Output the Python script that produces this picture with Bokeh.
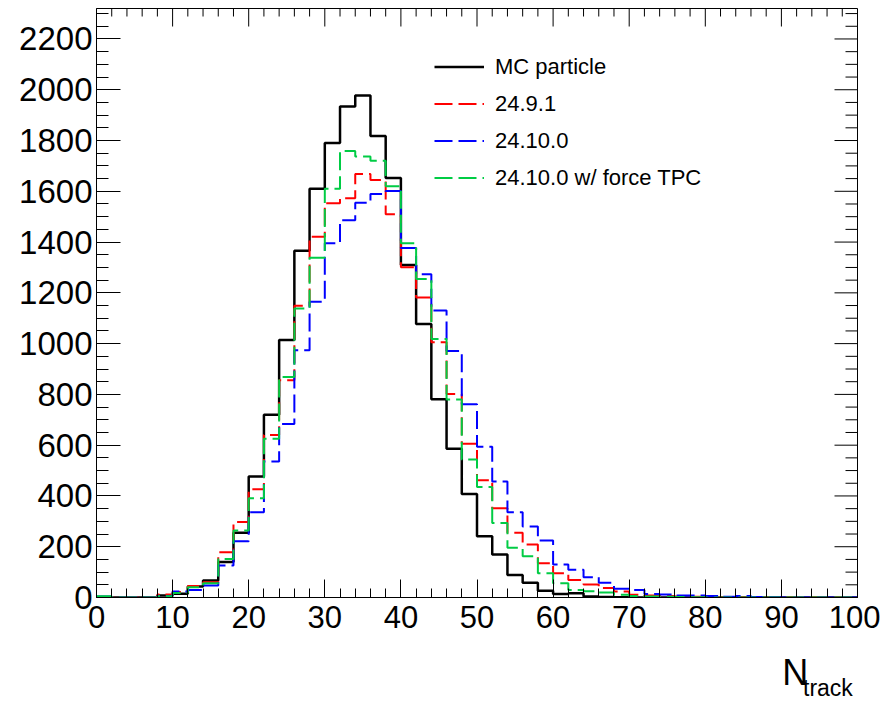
import numpy as np
from bokeh.plotting import figure
from bokeh.layouts import column
from bokeh.models import (Range1d, SingleIntervalTicker, Legend,
                          LegendItem, Label)
from bokeh.embed import file_html
from bokeh.resources import INLINE

# ---- data (bin width 2, range 0-100) ----
bin_width = 2
x_min, x_max = 0, 100
y_max = 2320

mc_particle = [0, 0, 0, 0, 8, 15, 43, 67, 140, 255,
               477, 720, 1014, 1366, 1610, 1790, 1934, 1977, 1818, 1652,
               1310, 1077, 781, 586, 408, 241, 169, 89, 58, 27,
               14, 17, 4, 2, 1, 0, 0, 0, 0, 0,
               0, 0, 0, 0, 0, 0, 0, 0, 0, 0]

v24_9_1 = [0, 0, 0, 0, 12, 22, 45, 60, 178, 297,
           426, 640, 856, 1149, 1421, 1553, 1573, 1668, 1644, 1510,
           1301, 1182, 1005, 802, 606, 462, 352, 255, 209, 135,
           96, 69, 51, 37, 24, 11, 8, 6, 4, 3,
           2, 1, 1, 0, 0, 0, 0, 0, 0, 0]

v24_10_0 = [4, 0, 0, 0, 6, 24, 30, 47, 126, 222,
            336, 536, 683, 974, 1165, 1395, 1486, 1555, 1589, 1601,
            1377, 1273, 1130, 971, 761, 594, 457, 336, 280, 225,
            130, 109, 80, 58, 34, 30, 14, 12, 8, 8,
            6, 3, 6, 2, 1, 0, 0, 0, 0, 0]

v24_10_0_tpc = [5, 0, 0, 0, 5, 18, 40, 56, 152, 264,
                391, 625, 869, 1138, 1338, 1610, 1759, 1737, 1720, 1620,
                1395, 1255, 1018, 780, 544, 435, 293, 196, 162, 96,
                56, 30, 25, 20, 11, 6, 4, 3, 2, 1,
                0, 0, 0, 0, 0, 0, 0, 0, 0, 0]

series_labels = ["MC particle", "24.9.1", "24.10.0", "24.10.0 w/ force TPC"]
series_colors = ["#000000", "#ff0000", "#0000ff", "#00cc44"]
x_title, x_title_sub = "N", "track"

x_major_step, x_minor_step = 10, 2
y_major_step, y_minor_step = 200, 50

edges = np.arange(x_min, x_max + bin_width, bin_width)

FONT = "Liberation Sans"
W, H = 880, 650
BL, BR, BT, BB = 96, 23, 8, 53
frame_w = W - BL - BR
frame_h = H - BT - BB

p = figure(width=W, height=H,
           x_range=Range1d(x_min, x_max), y_range=Range1d(0, y_max),
           output_backend="svg", toolbar_location=None,
           min_border_left=BL, min_border_right=BR,
           min_border_top=BT, min_border_bottom=BB)

p.background_fill_color = "white"
p.border_fill_color = "white"
p.outline_line_color = "black"
p.outline_line_width = 1
p.xgrid.visible = False
p.ygrid.visible = False

# bottom axis
xa = p.xaxis[0]
xa.ticker = SingleIntervalTicker(interval=x_major_step,
                                 num_minor_ticks=x_major_step // x_minor_step)
xa.major_tick_in = 18
xa.major_tick_out = 0
xa.minor_tick_in = 9
xa.minor_tick_out = 0
xa.major_label_standoff = 8
xa.major_label_text_font = FONT
xa.major_label_text_font_size = "31px"
xa.major_label_text_color = "black"
xa.axis_line_color = "black"
xa.major_tick_line_color = "black"
xa.minor_tick_line_color = "black"

# left axis
ya = p.yaxis[0]
ya.ticker = SingleIntervalTicker(interval=y_major_step,
                                 num_minor_ticks=y_major_step // y_minor_step)
ya.major_tick_in = 24
ya.major_tick_out = 0
ya.minor_tick_in = 12
ya.minor_tick_out = 0
ya.major_label_standoff = 4
ya.major_label_text_font = FONT
ya.major_label_text_font_size = "33px"
ya.major_label_text_color = "black"
ya.axis_line_color = "black"
ya.major_tick_line_color = "black"
ya.minor_tick_line_color = "black"

# mirrored tick marks on the top and right frame edges (ROOT style)
px_y = frame_h / y_max
px_x = frame_w / (x_max - x_min)
top_x = np.arange(x_min, x_max + x_minor_step, x_minor_step)
top_len = np.where(top_x % x_major_step == 0, 18, 8) / px_y
p.segment(x0=top_x, y0=np.full(len(top_x), y_max), x1=top_x, y1=y_max - top_len,
          line_color="black", line_width=1)
right_y = np.arange(0, y_max + 1, y_minor_step)
right_len = np.where(right_y % y_major_step == 0, 23, 12) / px_x
p.segment(x0=np.full(len(right_y), x_max), y0=right_y, x1=x_max - right_len, y1=right_y,
          line_color="black", line_width=1)

items = []
all_series = [mc_particle, v24_9_1, v24_10_0, v24_10_0_tpc]
for i, (vals, lab, col) in enumerate(zip(all_series, series_labels, series_colors)):
    yvals = list(vals) + [vals[-1]]
    if i == 0:
        r = p.step(x=edges, y=yvals, mode="after", line_color=col, line_width=2.5)
    else:
        r = p.step(x=edges, y=yvals, mode="after", line_color=col, line_width=2,
                   line_dash="18 6")
    items.append(LegendItem(label=lab, renderers=[r]))

legend = Legend(items=items, location=(338, 401),
                border_line_alpha=0, background_fill_alpha=0,
                label_text_font=FONT, label_text_font_size="22px",
                label_text_color="black",
                glyph_width=50, glyph_height=37, label_height=37,
                label_standoff=11, spacing=0, padding=0, margin=0)
p.add_layout(legend, "center")

# strip below the plot holding the ROOT-style x-axis title N_track
SH = 52
strip = figure(width=W, height=SH, x_range=Range1d(0, W), y_range=Range1d(0, SH),
               output_backend="svg", toolbar_location=None,
               min_border_left=0, min_border_right=0, min_border_top=0, min_border_bottom=0)
strip.axis.visible = False
strip.xgrid.visible = False
strip.ygrid.visible = False
strip.outline_line_color = None
strip.background_fill_color = "white"
strip.border_fill_color = "white"
strip.add_layout(Label(x=793, y=30, text=x_title, text_font=FONT,
                       text_font_size="36px", text_color="black",
                       text_baseline="alphabetic"))
strip.add_layout(Label(x=817, y=15, text=x_title_sub, text_font=FONT,
                       text_font_size="23px", text_color="black",
                       text_baseline="alphabetic"))

layout = column(p, strip, spacing=0)
open("out.html", "w").write(file_html(layout, INLINE))
